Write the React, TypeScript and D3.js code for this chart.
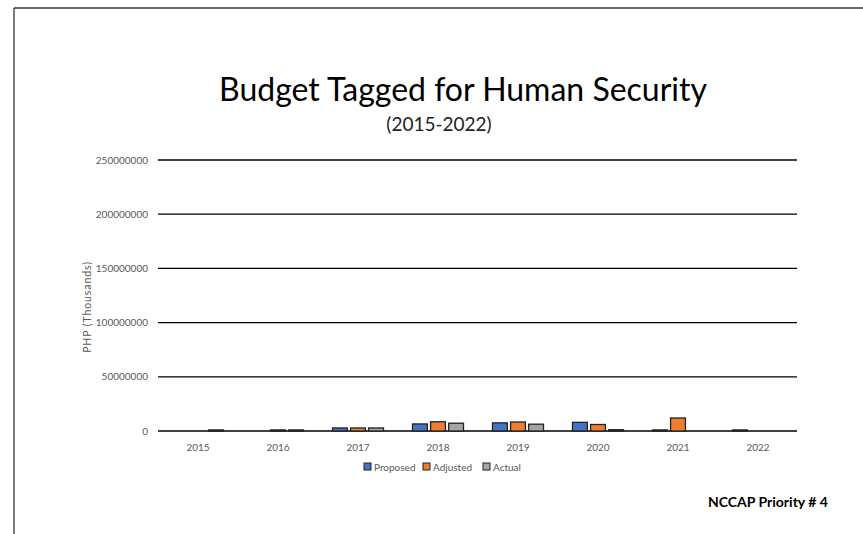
import React from "react";
import * as d3 from "d3";

const years = ["2015", "2016", "2017", "2018", "2019", "2020", "2021", "2022"];
const seriesNames = ["Proposed", "Adjusted", "Actual"];
const proposed = [0, 0, 2800000, 6500000, 7500000, 8000000, 1000000, 1000000];
const adjusted = [0, 1000000, 2800000, 8500000, 8300000, 6000000, 12000000, 0];
const actual = [1000000, 1000000, 2800000, 7200000, 6300000, 1200000, 0, 0];
const yTicks = [0, 50000000, 100000000, 150000000, 200000000, 250000000];
const colors = ["#4472C4", "#ED7D31", "#A5A5A5"];

const W = 863;
const H = 534;
const font = "Lato, 'Open Sans', sans-serif";

export default function App() {
  const series = [proposed, adjusted, actual];
  const x = d3.scaleBand<string>().domain(years).range([158, 798]);
  const inner = d3
    .scaleBand<number>()
    .domain([0, 1, 2])
    .range([x.bandwidth() / 2 - 25.5, x.bandwidth() / 2 + 25.5])
    .paddingInner(0.18);
  const y = d3.scaleLinear().domain([0, 250000000]).range([431, 160]);

  return (
    <svg width={W} height={H} style={{ position: "absolute", left: 0, top: 0, background: "#fff" }}>
      <rect x={0} y={0} width={W} height={H} fill="#fff" />
      {/* frame */}
      <line x1={14} y1={8} x2={W} y2={8} stroke="#333" strokeWidth={1.3} />
      <line x1={14} y1={8} x2={14} y2={H} stroke="#333" strokeWidth={1.3} />

      <text x={463} y={101} textAnchor="middle" fontFamily={font} fontSize={32} fill="#000">
        Budget Tagged for Human Security
      </text>
      <text x={439} y={131} textAnchor="middle" fontFamily={font} fontSize={19} fill="#222">
        (2015-2022)
      </text>

      {/* gridlines and y tick labels */}
      {yTicks.map((t) => (
        <g key={t}>
          <line x1={158} x2={797} y1={y(t)} y2={y(t)} stroke="#000" strokeWidth={1.3} />
          <text
            x={148}
            y={y(t)}
            dy="0.35em"
            textAnchor="end"
            fontFamily={font}
            fontSize={10}
            fill="#595959"
          >
            {t}
          </text>
        </g>
      ))}

      <text
        transform={`translate(91,307) rotate(-90)`}
        textAnchor="middle"
        fontFamily={font}
        fontSize={10.5}
        letterSpacing={0.9}
        fill="#595959"
      >
        PHP (Thousands)
      </text>

      {/* bars */}
      {years.map((yr, i) => (
        <g key={yr} transform={`translate(${x(yr)},0)`}>
          {series.map((s, k) =>
            s[i] > 0 ? (
              <rect
                key={k}
                x={inner(k)}
                y={y(s[i])}
                width={inner.bandwidth()}
                height={y(0) - y(s[i])}
                fill={colors[k]}
                stroke="#222"
                strokeWidth={1.3}
              />
            ) : null
          )}
          <text
            x={x.bandwidth() / 2}
            y={451}
            textAnchor="middle"
            fontFamily={font}
            fontSize={10}
            fill="#595959"
          >
            {yr}
          </text>
        </g>
      ))}

      {/* legend */}
      {seriesNames.map((n, k) => {
        const lx = [364, 423, 483][k];
        return (
          <g key={n} transform={`translate(${lx},467)`}>
            <rect x={0} y={-4} width={7} height={7} fill={colors[k]} stroke="#222" strokeWidth={1} />
            <text x={10} y={0} dy="0.35em" fontFamily={font} fontSize={10} fill="#595959">
              {n}
            </text>
          </g>
        );
      })}

      <text x={708} y={507} fontFamily={font} fontSize={14} fontWeight="bold" fill="#000">
        NCCAP Priority # 4
      </text>
    </svg>
  );
}
